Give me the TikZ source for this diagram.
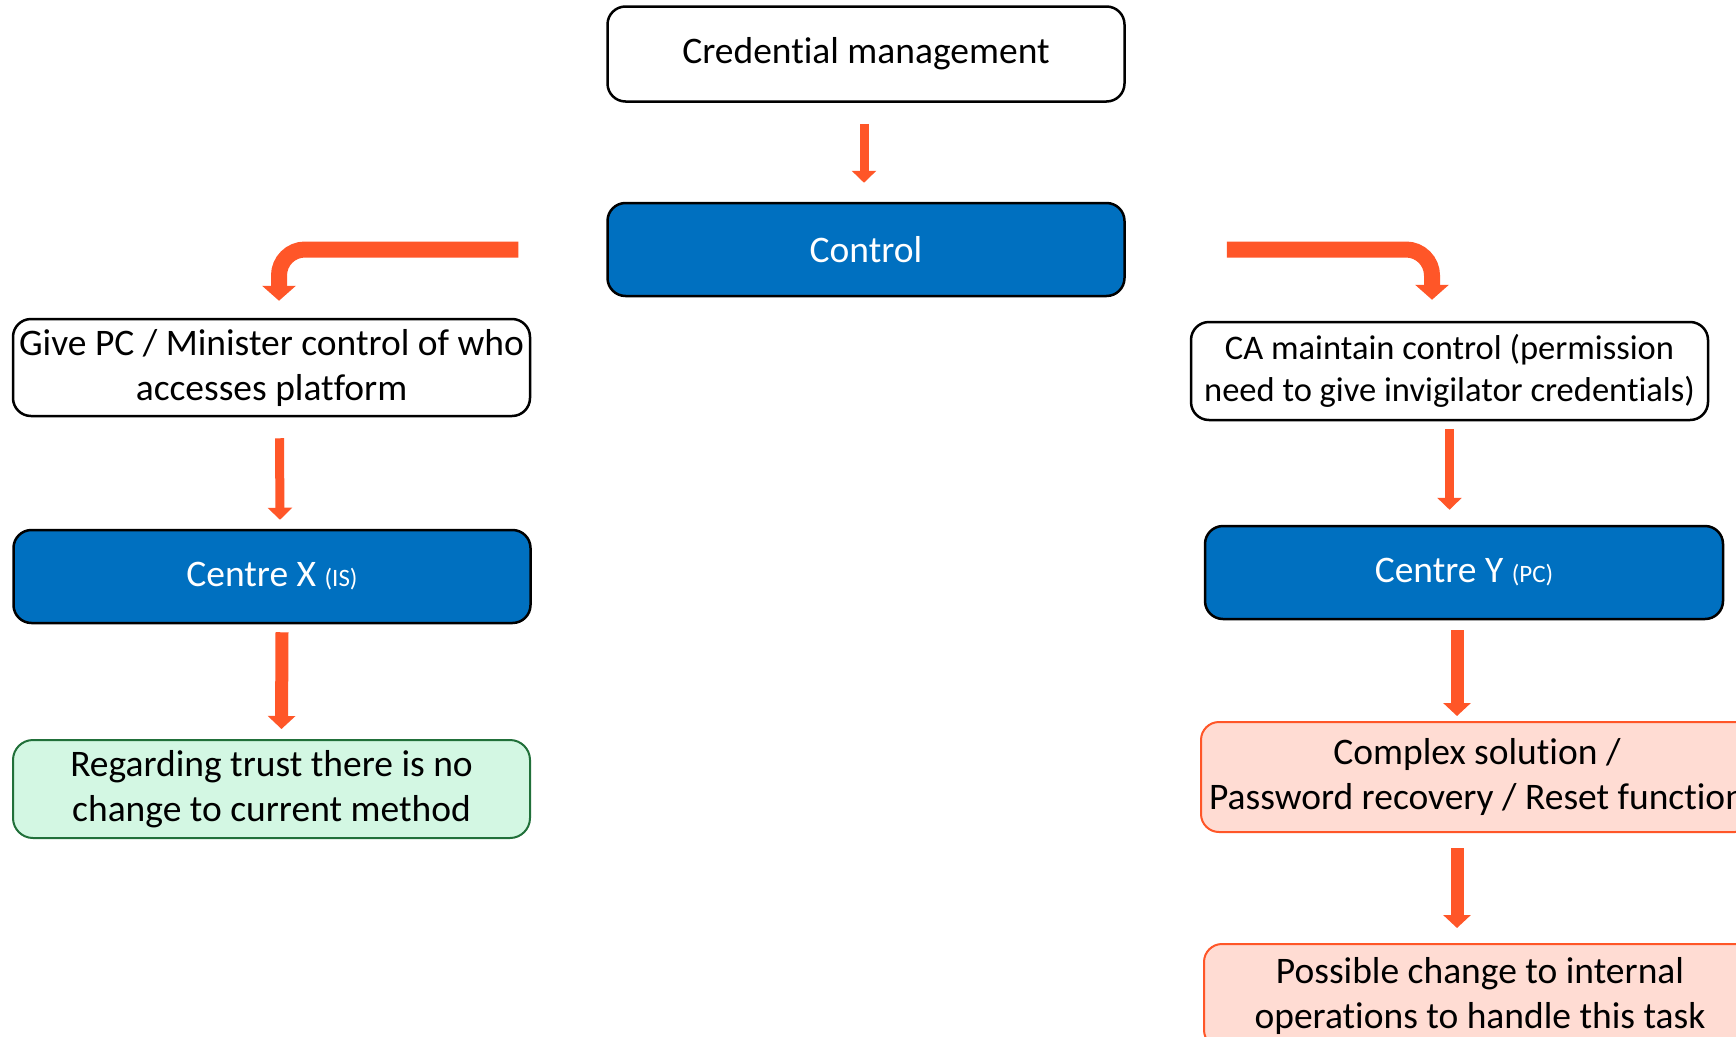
\documentclass[tikz,border=0pt]{standalone}
\usepackage{fontspec}
\setmainfont{Carlito}[Ligatures=NoCommon]
\usetikzlibrary{arrows.meta}
\definecolor{org}{HTML}{FF5628}
\definecolor{blu}{HTML}{0070C0}
\definecolor{grnfill}{HTML}{D3F7E3}
\definecolor{grnline}{HTML}{21703A}
\definecolor{pinkfill}{HTML}{FFDCD3}
\begin{document}
\begin{tikzpicture}[x=1pt,y=-1pt,
  box/.style={draw=black, line width=2.5pt, rounded corners=18pt, minimum width=517pt, minimum height=95pt, inner sep=0pt, align=center, font=\fontsize{37.5}{45}\selectfont},
  bluebox/.style={box, fill=blu, text=white},
  greenbox/.style={box, fill=grnfill, draw=grnline, line width=2pt, rounded corners=20pt},
  pinkbox/.style={box, fill=pinkfill, draw=org, line width=2pt},
  thin/.style={draw=org, line width=9pt, -{Triangle[width=24pt,length=12pt]}},
  thick/.style={draw=org, line width=13pt, -{Triangle[width=27pt,length=13pt]}},
  bent/.style={draw=org, line width=16pt, rounded corners=26pt, -{Triangle[width=33pt,length=15pt]}}
]
\useasboundingbox (0,0) rectangle (1736,1036);
\clip (0,0) rectangle (1736,1036);
\fill[white] (0,0) rectangle (1736,1036);

\node[box] (cred) at (866,54) {Credential management};
\node[bluebox, minimum height=93pt] (control) at (866,249.5) {Control};
\node[box, minimum height=97pt] (give) at (271.5,367.5) {Give PC / Minister control of who\\accesses platform};
\node[bluebox, minimum height=93pt] (cx) at (272,576.5) {Centre X {\fontsize{25}{28}\selectfont(IS)}};
\node[greenbox, minimum height=98pt] (trust) at (271.5,789) {Regarding trust there is no\\change to current method};
\node[box, minimum height=98pt, font=\fontsize{34.5}{42}\selectfont] (ca) at (1449.5,371) {CA maintain control (permission\\need to give invigilator credentials)};
\node[bluebox, minimum height=93pt, minimum width=518pt] (cy) at (1464,572.5) {Centre Y {\fontsize{25}{28}\selectfont(PC)}};
\node[pinkbox, minimum height=110pt, minimum width=552pt] (complex) at (1477,777) {Complex solution /\\Password recovery / Reset function};
\node[pinkbox, minimum height=104pt, minimum width=552pt] (possible) at (1480,996) {Possible change to internal\\operations to handle this task};

\draw[thin] ([xshift=-2pt,yshift=-21pt]cred.south) -- ([xshift=-2pt,yshift=19pt]control.north);
\draw[bent] ([xshift=-88pt]control.west) -| ([xshift=7.5pt,yshift=17pt]give.north);
\draw[bent] ([xshift=101pt]control.east) -| ([xshift=-17.5pt,yshift=21pt]ca.north);
\draw[thin] ([xshift=8pt,yshift=-21pt]give.south) -- ([xshift=8pt,yshift=9pt]cx.north);
\draw[thick] ([xshift=10pt,yshift=-8pt]cx.south) -- ([xshift=10pt,yshift=10pt]trust.north);
\draw[thin] ([yshift=-8pt]ca.south) -- ([yshift=15pt]ca.south |- cy.north);
\draw[thick] ([xshift=-7pt,yshift=-10pt]cy.south) -- ([xshift=-7pt,yshift=5pt]cy.south |- complex.north);
\draw[thick] ([xshift=-20pt,yshift=-15pt]complex.south) -- ([xshift=-20pt,yshift=15pt]complex.south |- possible.north);
\end{tikzpicture}
\end{document}
